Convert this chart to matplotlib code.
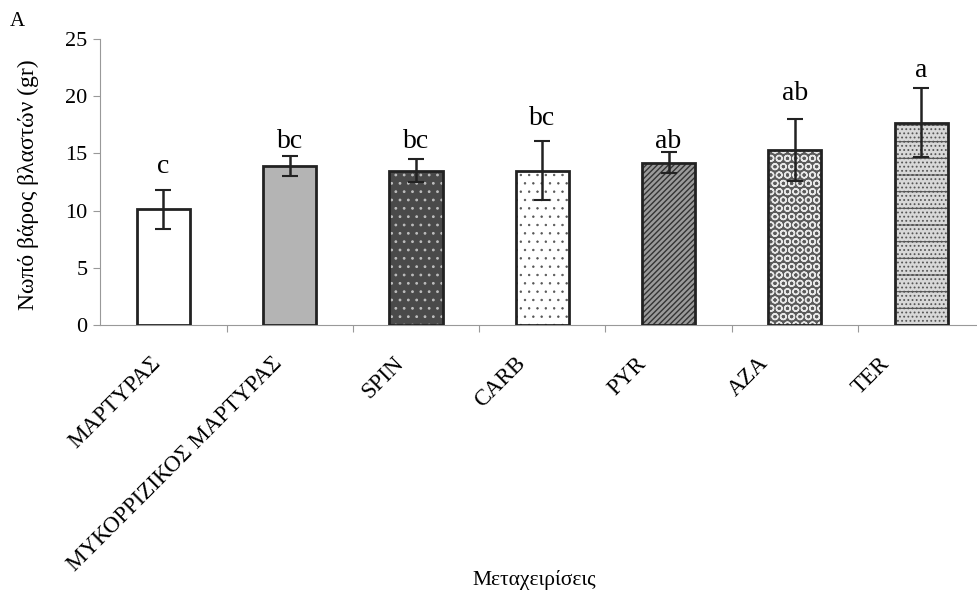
import numpy as np
import matplotlib
matplotlib.use("Agg")
import matplotlib.pyplot as plt

plt.rcParams['font.family'] = ['Liberation Serif', 'DejaVu Serif']

treatments = ["ΜΑΡΤΥΡΑΣ", "ΜΥΚΟΡΡΙΖΙΚΟΣ ΜΑΡΤΥΡΑΣ", "SPIN", "CARB", "PYR", "AZA", "TER"]
weight = [10.1, 13.9, 13.5, 13.5, 14.2, 15.3, 17.7]
err = [1.7, 0.9, 1.0, 2.6, 0.9, 2.7, 3.0]
letters = ["c", "bc", "bc", "bc", "ab", "ab", "a"]
letter_y = [13.3, 15.5, 15.5, 17.5, 15.5, 19.7, 21.7]

faces = ["white", "#b4b4b4", "#4a4a4a", "white", "#9a9a9a", "#5a5a5a", "#d8d8d8"]
hatches = [None, None, "..", "..", "//////", "OO", "-...."]
hcolors = ["black", "black", "#bdbdbd", "#555555", "#333333", "#e8e8e8", "#555555"]
hwidths = [1.0, 1.0, 0.8, 0.5, 1.0, 1.0, 0.8]

fig = plt.figure(figsize=(9.78, 5.91), dpi=100)
ax = fig.add_axes([0.1025, 0.45, 0.904, 0.484])

x = np.arange(len(treatments))
for i in range(len(x)):
    with plt.rc_context({'hatch.linewidth': hwidths[i]}):
        ax.bar(x[i], weight[i], width=0.42, color=faces[i], hatch=hatches[i],
               edgecolor=hcolors[i], linewidth=0, zorder=2)
ax.bar(x, weight, width=0.42, fill=False, edgecolor="#222222", linewidth=2, zorder=3)
ax.errorbar(x, weight, yerr=err, fmt="none", ecolor="#222222", elinewidth=1.8,
            capsize=5.5, capthick=1.5, zorder=4)
for i in range(len(x)):
    ax.text(x[i], letter_y[i], letters[i], ha="center", va="baseline", fontsize=20)

ax.set_xlim(-0.5, 6.5)
ax.set_ylim(0, 25)
ax.set_yticks([0, 5, 10, 15, 20, 25])
ax.tick_params(axis="y", labelsize=16, color="#999999", length=5, width=0.8, pad=4)
# category labels sit a little tighter than the bars in the original
ax.set_xticks(x * 0.962 - 0.107)
ax.set_xticklabels(treatments, rotation=45, ha="right", rotation_mode="anchor", fontsize=16.5)
ax.tick_params(axis="x", length=0, pad=20)
ax.set_xticks(np.arange(0.5, 6.5, 1), minor=True)
ax.tick_params(axis="x", which="minor", length=5, color="#999999", width=0.8)
for s in ["top", "right"]:
    ax.spines[s].set_visible(False)
ax.spines["left"].set_color("#999999")
ax.spines["bottom"].set_color("#999999")
ax.spines["left"].set_linewidth(0.8)
ax.spines["bottom"].set_linewidth(0.8)

ax.set_ylabel("Νωπό βάρος βλαστών (gr)", fontsize=17)
ax.yaxis.set_label_coords(-0.069, 0.49)
fig.text(0.546, 0.019, "Μεταχειρίσεις", ha="center", va="center", fontsize=15.5)
fig.text(0.018, 0.963, "A", ha="center", va="center", fontsize=15)

fig.savefig("out.png", dpi=100)
